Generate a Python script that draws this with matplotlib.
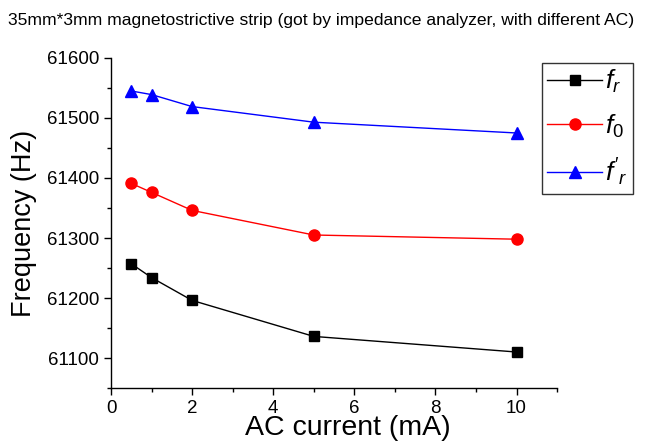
import matplotlib.pyplot as plt
from matplotlib.ticker import MultipleLocator

plt.rcParams['font.family'] = ['Liberation Sans', 'DejaVu Sans']
plt.rcParams['mathtext.fontset'] = 'custom'
plt.rcParams['mathtext.it'] = 'Liberation Sans:italic'
plt.rcParams['mathtext.rm'] = 'Liberation Sans'

# AC current (mA)
current = [0.5, 1, 2, 5, 10]
# frequencies (Hz)
f_r = [61257, 61234, 61196, 61136, 61110]
f_0 = [61391, 61376, 61346, 61305, 61298]
f_r_prime = [61545, 61539, 61519, 61493, 61475]


def main():
    fig = plt.figure(figsize=(6.47, 4.46), dpi=100)
    ax = fig.add_axes([0.1716, 0.130, 0.6894, 0.740])

    ax.plot(current, f_r, color="black", marker="s", markersize=7, linewidth=1, label=r"$f_r$")
    ax.plot(current, f_0, color="red", marker="o", markersize=8, linewidth=1, label=r"$f_{\mathit{0}}$")
    ax.plot(current, f_r_prime, color="blue", marker="^", markersize=8, linewidth=1, label=r"$f'_r$")

    ax.set_xlim(0, 11)
    ax.set_ylim(61050, 61600)
    ax.set_xticks([0, 2, 4, 6, 8, 10])
    ax.set_yticks([61100, 61200, 61300, 61400, 61500, 61600])
    ax.xaxis.set_minor_locator(MultipleLocator(1))
    ax.yaxis.set_minor_locator(MultipleLocator(50))
    ax.tick_params(which="major", direction="out", length=5, width=1, labelsize=13.5)
    ax.tick_params(which="minor", direction="out", length=3, width=1)

    for side in ("top", "right"):
        ax.spines[side].set_visible(False)
    for side in ("left", "bottom"):
        ax.spines[side].set_linewidth(1)

    ax.set_xlabel("AC current (mA)", fontsize=20.5, labelpad=-1, x=0.53)
    ax.set_ylabel("Frequency (Hz)", fontsize=19.5, labelpad=7)

    fig.text(0.012, 0.955, "35mm*3mm magnetostrictive strip (got by impedance analyzer, with different AC)",
             fontsize=12.6, ha="left", va="center")

    leg = ax.legend(loc="upper right", bbox_to_anchor=(0.978, 0.859), bbox_transform=fig.transFigure,
                    fontsize=19, frameon=True, fancybox=False, edgecolor="black",
                    handlelength=2.1, handletextpad=0.1, labelspacing=0.65, borderpad=0.2,
                    borderaxespad=0)
    leg.get_frame().set_linewidth(1)

    fig.savefig("out.png", dpi=100)


if __name__ == "__main__":
    main()
